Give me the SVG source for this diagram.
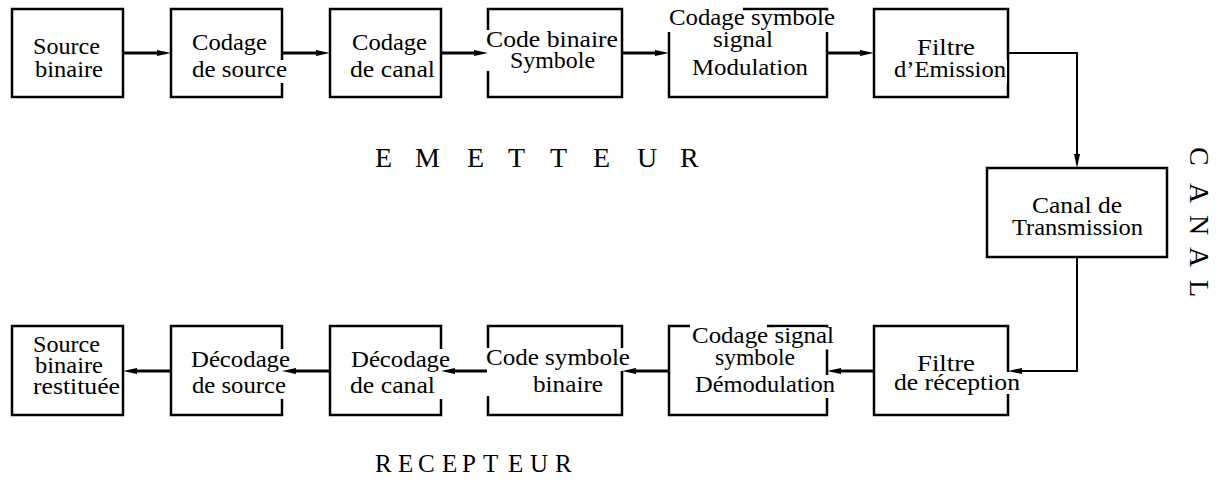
<svg xmlns="http://www.w3.org/2000/svg" width="1224" height="490" viewBox="0 0 1224 490">
<style>
.box{fill:#fff;stroke:#000;stroke-width:2.5}
.bg{fill:#fff;stroke:none}
.t{font-family:"Liberation Serif","Times New Roman",serif;font-size:24px;fill:#000}
.big{font-family:"Liberation Serif","Times New Roman",serif;font-size:28px;fill:#000}
.mid{font-family:"Liberation Serif","Times New Roman",serif;font-size:25px;fill:#000}
.c{fill:none;stroke:#000;stroke-width:3;marker-end:url(#ah)}
.c2{fill:none;stroke:#000;stroke-width:2;marker-end:url(#ah)}
</style>
<defs>
<marker id="ah" viewBox="0 0 14 6" refX="2" refY="3" markerWidth="14" markerHeight="6" markerUnits="userSpaceOnUse" orient="auto">
<path d="M0,0 L14,3 L0,6 Z" fill="#000"/>
</marker>
</defs>
<rect width="1224" height="490" fill="#fff"/>

<g id="tx-source">
<rect class="box" x="12" y="9" width="111" height="88"/>
<text class="t" x="33" y="54" textLength="67" lengthAdjust="spacingAndGlyphs">Source</text>
<text class="t" x="35" y="77" textLength="68" lengthAdjust="spacingAndGlyphs">binaire</text>
</g>
<g id="tx-codage-source">
<rect class="box" x="171" y="9" width="111" height="88"/>
<rect class="bg" x="191" y="60" width="97" height="23"/>
<text class="t" x="192" y="50" textLength="75" lengthAdjust="spacingAndGlyphs">Codage</text>
<text class="t" x="192" y="77" textLength="95" lengthAdjust="spacingAndGlyphs">de source</text>
</g>
<g id="tx-codage-canal">
<rect class="box" x="330" y="9" width="111" height="88"/>
<rect class="bg" x="349" y="60" width="87" height="23"/>
<text class="t" x="352" y="50" textLength="75" lengthAdjust="spacingAndGlyphs">Codage</text>
<text class="t" x="350" y="77" textLength="85" lengthAdjust="spacingAndGlyphs">de canal</text>
</g>
<g id="tx-code-binaire">
<rect class="box" x="488" y="9" width="134" height="88"/>
<rect class="bg" x="485" y="30" width="134" height="23"/>
<rect class="bg" x="485" y="51" width="30" height="20"/>
<text class="t" x="486" y="47" textLength="132" lengthAdjust="spacingAndGlyphs">Code binaire</text>
<text class="t" x="510" y="68" textLength="85" lengthAdjust="spacingAndGlyphs">Symbole</text>
</g>
<g id="tx-modulation">
<rect class="box" x="669" y="9" width="158" height="88"/>
<rect class="bg" x="667" y="6" width="76" height="26"/>
<rect class="bg" x="752" y="10.5" width="84" height="21.5"/>
<text class="t" x="669" y="25" textLength="166" lengthAdjust="spacingAndGlyphs">Codage symbole</text>
<text class="t" x="713" y="47" textLength="60" lengthAdjust="spacingAndGlyphs">signal</text>
<text class="t" x="692" y="75" textLength="116" lengthAdjust="spacingAndGlyphs">Modulation</text>
</g>
<g id="tx-filtre">
<rect class="box" x="874" y="9" width="134" height="88"/>
<rect class="bg" x="893" y="60" width="114" height="23"/>
<text class="t" x="917" y="55" textLength="58" lengthAdjust="spacingAndGlyphs">Filtre</text>
<text class="t" x="894" y="77" textLength="112" lengthAdjust="spacingAndGlyphs">d’Emission</text>
</g>

<g id="canal">
<rect class="box" x="987" y="168" width="180" height="89"/>
<text class="t" x="1032" y="213" textLength="90" lengthAdjust="spacingAndGlyphs">Canal de</text>
<text class="t" x="1012" y="235" textLength="131" lengthAdjust="spacingAndGlyphs">Transmission</text>
</g>

<g id="rx-filtre">
<rect class="box" x="874" y="326" width="134" height="89"/>
<rect class="bg" x="1000" y="372" width="21" height="22"/>
<text class="t" x="917" y="371" textLength="58" lengthAdjust="spacingAndGlyphs">Filtre</text>
<text class="t" x="894" y="390" textLength="126" lengthAdjust="spacingAndGlyphs">de réception</text>
</g>
<g id="rx-demodulation">
<rect class="box" x="669" y="326" width="158" height="89"/>
<rect class="bg" x="690" y="323" width="77" height="26"/>
<rect class="bg" x="775" y="327.5" width="60" height="22"/>
<rect class="bg" x="693" y="375" width="143" height="23"/>
<text class="t" x="692" y="343" textLength="142" lengthAdjust="spacingAndGlyphs">Codage signal</text>
<text class="t" x="715" y="365" textLength="80" lengthAdjust="spacingAndGlyphs">symbole</text>
<text class="t" x="695" y="392" textLength="140" lengthAdjust="spacingAndGlyphs">Démodulation</text>
</g>
<g id="rx-code-symbole">
<rect class="box" x="488" y="326" width="134" height="89"/>
<rect class="bg" x="485" y="348" width="146" height="23"/>
<rect class="bg" x="485" y="371" width="8" height="25"/>
<text class="t" x="486" y="365" textLength="144" lengthAdjust="spacingAndGlyphs">Code symbole</text>
<text class="t" x="533" y="392" textLength="70" lengthAdjust="spacingAndGlyphs">binaire</text>
</g>
<g id="rx-decodage-canal">
<rect class="box" x="330" y="326" width="111" height="89"/>
<rect class="bg" x="349" y="349" width="102" height="50"/>
<text class="t" x="351" y="367" textLength="99" lengthAdjust="spacingAndGlyphs">Décodage</text>
<text class="t" x="350" y="393" textLength="85" lengthAdjust="spacingAndGlyphs">de canal</text>
</g>
<g id="rx-decodage-source">
<rect class="box" x="171" y="326" width="111" height="89"/>
<rect class="bg" x="190" y="349" width="101" height="50"/>
<text class="t" x="191" y="367" textLength="99" lengthAdjust="spacingAndGlyphs">Décodage</text>
<text class="t" x="192" y="393" textLength="94" lengthAdjust="spacingAndGlyphs">de source</text>
</g>
<g id="rx-source">
<rect class="box" x="12" y="326" width="111" height="89"/>
<text class="t" x="33" y="352" textLength="67" lengthAdjust="spacingAndGlyphs">Source</text>
<text class="t" x="35" y="373" textLength="68" lengthAdjust="spacingAndGlyphs">binaire</text>
<text class="t" x="33" y="394" textLength="87" lengthAdjust="spacingAndGlyphs">restituée</text>
</g>

<g id="connectors">
<path class="c" d="M124,53 H159"/>
<path class="c" d="M283,53 H318"/>
<path class="c" d="M442,53 H476"/>
<path class="c" d="M623,53 H657"/>
<path class="c" d="M828,53 H862"/>
<path class="c2" d="M1009,53 H1077 V156"/>
<path class="c2" d="M1077,258 V371 H1020"/>
<path class="c" d="M873,371 H839"/>
<path class="c" d="M668,371 H634"/>
<path class="c" d="M487,371 H453"/>
<path class="c" d="M329,371 H294"/>
<path class="c" d="M170,371 H135"/>
</g>

<g id="labels">
<text class="big" y="167" x="375 393 415 442 467 485 508 528 550 570 593 612 637 657 680">E M E T T E U R</text>
<text class="mid" y="472" x="375 393 398 413 418 437 442 457 462 480 483 503 508 525 530 550 555">R E C E P T E U R</text>
<text class="big" transform="translate(1190,147) rotate(90)" y="0" x="0 19 36 55 68 88 100 120 133">C A N A L</text>
</g>
</svg>
